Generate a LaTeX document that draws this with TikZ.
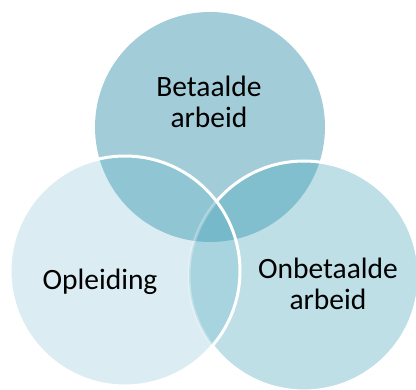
\documentclass[tikz,border=0pt]{standalone}
\usepackage{fontspec}
\setmainfont{Carlito}

\definecolor{betaaldc}{RGB}{162,205,216}
\definecolor{opleidc}{RGB}{219,237,242}
\definecolor{onbetc}{RGB}{190,223,230}
\definecolor{bopc}{RGB}{144,197,212}
\definecolor{bonc}{RGB}{129,190,206}
\definecolor{oonc}{RGB}{168,212,224}
\definecolor{allc}{RGB}{118,185,203}

\tikzstyle{vennfig}=[x=1pt,y=-1pt]
\tikzstyle{rim}=[draw=white,line width=3pt]
\tikzstyle{lbl}=[font=\fontsize{29.5}{31}\selectfont,align=center,inner sep=0pt,anchor=base]

\begin{document}
\begin{tikzpicture}[style=vennfig]
\useasboundingbox (0,0) rectangle (416,390);
\clip (0,0) rectangle (416,390);

\coordinate (betaald) at (210,127);
\coordinate (opleid) at (125,271);
\coordinate (onbet) at (304,276);
\def\rr{115pt}

% top and right circle
\fill [betaaldc] (betaald) circle (\rr);
\fill [onbetc] (onbet) circle (\rr);
\begin{scope}
\clip (betaald) circle (\rr);
\fill [bonc] (onbet) circle (\rr);
\end{scope}
\draw [rim] (onbet) circle (\rr);

% left circle on top
\begin{scope}
\clip (opleid) circle (\rr);
\fill [opleidc] (opleid) circle (\rr);
\fill [bopc] (betaald) circle (\rr);
\fill [oonc] (onbet) circle (\rr);
\begin{scope}
\clip (betaald) circle (\rr);
\fill [allc] (onbet) circle (\rr);
\end{scope}
\draw [rim,draw opacity=0.3] (onbet) circle (\rr);
\end{scope}
\draw [rim] (opleid) circle (\rr);

\node[lbl] (betaaldlbl) at (209,128) {Betaalde\\arbeid};
\node[lbl] (opleidlbl) at (100,290) {Opleiding};
\node[lbl] (onbetlbl) at (328,310) {Onbetaalde\\arbeid};
\end{tikzpicture}
\end{document}
